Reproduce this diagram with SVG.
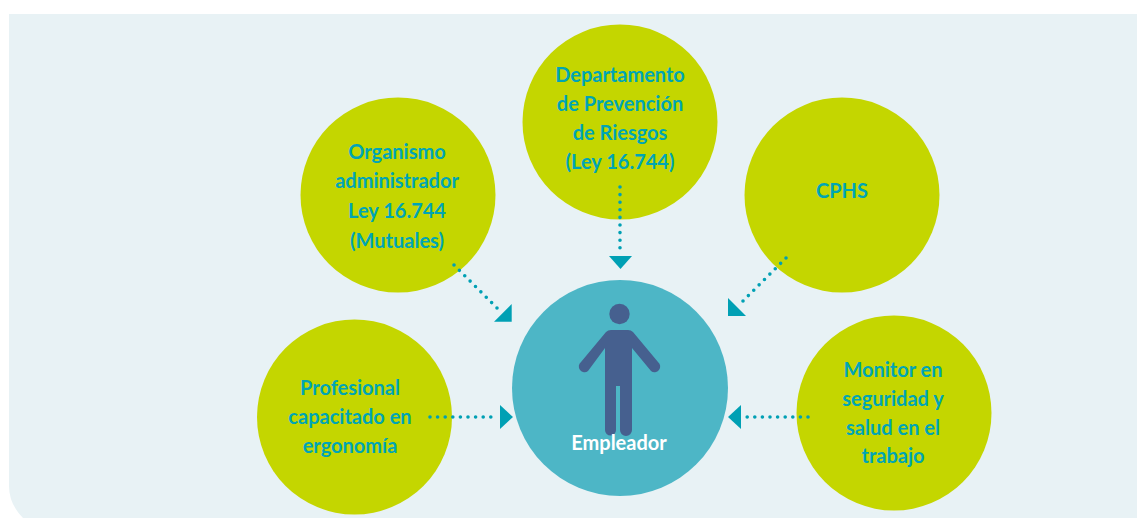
<svg xmlns="http://www.w3.org/2000/svg" width="1137" height="518" viewBox="0 0 1137 518">
<style>
.bg{fill:#e8f2f5}
.n{fill:#c4d600}
.t{font-family:"Lato","Open Sans",sans-serif;font-weight:700;font-size:20px;fill:#00a5b5;text-anchor:middle}
.d{fill:none;stroke:#00a0b4;stroke-width:3.6;stroke-linecap:round;stroke-dasharray:0 7.6}
.a{fill:#00a0b4}
.f{fill:#46608f}
</style>
<rect width="1137" height="518" fill="#fff"/>
<path class="bg" d="M9 14H1137V518H23Q9 504 9 486Z"/>
<g id="node-organismo"><circle class="n" cx="398" cy="195" r="97.5"/>
<text class="t" x="397" y="159">Organismo</text><text class="t" x="397" y="188">administrador</text><text class="t" x="397" y="218">Ley 16.744</text><text class="t" x="397" y="248">(Mutuales)</text></g>
<g id="node-departamento"><circle class="n" cx="620" cy="122" r="97.5"/>
<text class="t" x="620" y="82">Departamento</text><text class="t" x="620" y="111">de Prevención</text><text class="t" x="620" y="140">de Riesgos</text><text class="t" x="620" y="169">(Ley 16.744)</text></g>
<g id="node-cphs"><circle class="n" cx="842" cy="195" r="97.5"/>
<text class="t" x="842" y="198">CPHS</text></g>
<g id="node-profesional"><circle class="n" cx="354.500" cy="417" r="97.5"/>
<text class="t" x="350" y="395">Profesional</text><text class="t" x="350" y="424">capacitado en</text><text class="t" x="350" y="453">ergonomía</text></g>
<g id="node-monitor"><circle class="n" cx="894" cy="413" r="97.5"/>
<text class="t" x="893" y="377">Monitor en</text><text class="t" x="893" y="406">seguridad y</text><text class="t" x="893" y="435">salud en el</text><text class="t" x="893" y="463">trabajo</text></g>
<g id="node-empleador"><circle cx="620" cy="388" r="108" fill="#4db6c6"/>
<circle class="f" cx="619.500" cy="314" r="10.2"/>
<path class="f" d="M611 330H628Q631 330 633 332L658 362A4.5 4.500 0 0 1 651 371L632 348V430A6 6 0 0 1 620 430V386H616V430A5.500 5.500 0 0 1 605 430V348L588 371A4.500 4.500 0 0 1 581 362L606 332Q608 330 611 330Z"/>
<text x="619" y="450" style="font-family:Lato,'Open Sans',sans-serif;font-weight:700;font-size:20px;fill:#fff;text-anchor:middle">Empleador</text></g>
<g id="connectors">
<path class="d" d="M454 265L498 309"/><path class="a" d="M511.700 304V321.700H494Z"/>
<path class="d" d="M620 187V254"/><path class="a" d="M609 256H632L620.500 269Z"/>
<path class="d" d="M786 258L742 302"/><path class="a" d="M728 298V316H746Z"/>
<path class="d" d="M430 417H498"/><path class="a" d="M500 405L513 417L500 429Z"/>
<path class="d" d="M808 417H743"/><path class="a" d="M741 405L728 417L741 429Z"/>
</g>
</svg>
